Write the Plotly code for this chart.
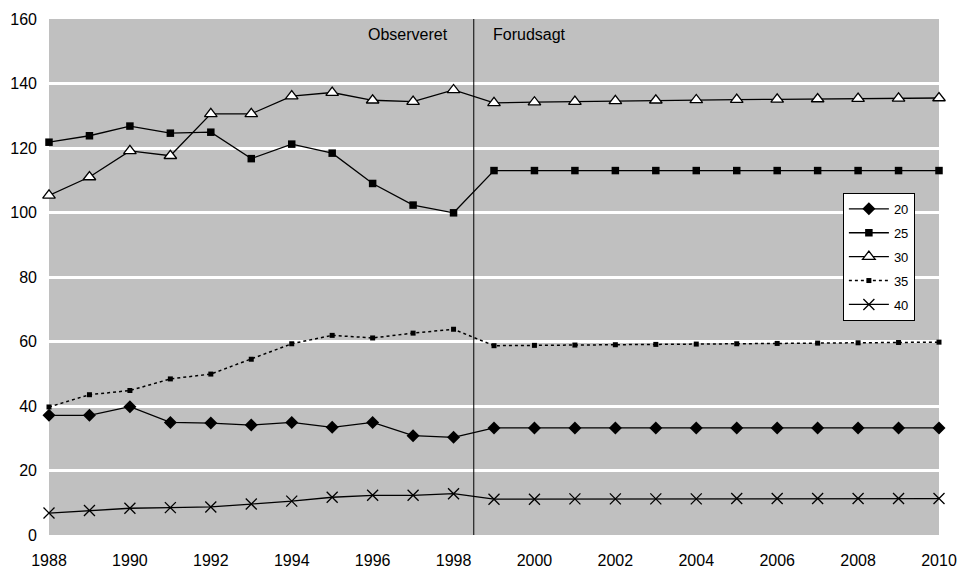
import plotly.graph_objects as go

years = list(range(1988, 2011))

s20 = [37.1, 37.1, 39.8, 34.9, 34.7, 34.1, 34.9, 33.4, 34.9, 30.8, 30.3,
       33.2, 33.2, 33.2, 33.2, 33.2, 33.2, 33.2, 33.2, 33.2, 33.2, 33.2, 33.2]
s25 = [121.8, 123.8, 126.8, 124.6, 124.9, 116.7, 121.2, 118.4, 109.0, 102.3, 99.9,
       113.0, 113.0, 113.0, 113.0, 113.0, 113.0, 113.0, 113.0, 113.0, 113.0, 113.0, 113.0]
s30 = [105.3, 111.0, 119.1, 117.6, 130.6, 130.6, 136.1, 137.2, 134.8, 134.4, 138.0,
       134.0, 134.2, 134.4, 134.6, 134.8, 134.9, 135.0, 135.1, 135.2, 135.3, 135.4, 135.5]
s35 = [39.7, 43.5, 44.8, 48.4, 49.9, 54.5, 59.3, 61.9, 61.1, 62.6, 63.8,
       58.7, 58.8, 58.9, 59.0, 59.1, 59.2, 59.3, 59.4, 59.5, 59.6, 59.7, 59.8]
s40 = [6.8, 7.6, 8.3, 8.5, 8.7, 9.6, 10.5, 11.7, 12.3, 12.3, 12.8,
       11.1, 11.1, 11.2, 11.2, 11.2, 11.2, 11.3, 11.3, 11.3, 11.3, 11.3, 11.3]

split_year = 1998.5
label_obs = "Observeret"
label_pred = "Forudsagt"

font = "Liberation Sans, Arial, sans-serif"

fig = go.Figure()

fig.add_trace(go.Scatter(x=years, y=s20, name="20", mode="lines+markers", legendgroup="a",
                         line=dict(color="black", width=1.3),
                         marker=dict(symbol="diamond", size=10, color="black"),
                         cliponaxis=False))
fig.add_trace(go.Scatter(x=years, y=s25, name="25", mode="lines+markers", legendgroup="b",
                         line=dict(color="black", width=1.3),
                         marker=dict(symbol="square", size=7.5, color="black"),
                         cliponaxis=False))
fig.add_trace(go.Scatter(x=years, y=s30, name="30", mode="lines+markers", legendgroup="c",
                         line=dict(color="black", width=1.3),
                         marker=dict(symbol="triangle-up", size=11, color="white",
                                     line=dict(color="black", width=1.3)),
                         cliponaxis=False))
fig.add_trace(go.Scatter(x=years, y=s35, name="35", mode="lines+markers", legendgroup="d",
                         line=dict(color="black", width=1.5, dash="dot"),
                         marker=dict(symbol="square", size=5, color="black"),
                         cliponaxis=False))
fig.add_trace(go.Scatter(x=years, y=s40, name="40", mode="lines+markers", legendgroup="e",
                         line=dict(color="black", width=1.3),
                         marker=dict(symbol="x-thin", size=11, color="black",
                                     line=dict(color="black", width=1.3)),
                         cliponaxis=False))

fig.add_shape(type="line", x0=split_year, x1=split_year, y0=0, y1=160,
              xref="x", yref="y", line=dict(color="black", width=1))

fig.add_annotation(x=split_year, y=155.2, xref="x", yref="y", text=label_obs,
                   showarrow=False, xanchor="right", xshift=-24,
                   font=dict(family=font, size=16, color="black"))
fig.add_annotation(x=split_year, y=155.2, xref="x", yref="y", text=label_pred,
                   showarrow=False, xanchor="left", xshift=17,
                   font=dict(family=font, size=16, color="black"))

fig.update_layout(
    width=957, height=569,
    margin=dict(l=49, r=18, t=19, b=34),
    paper_bgcolor="white",
    plot_bgcolor="#c0c0c0",
    font=dict(family=font, size=16, color="black"),
    showlegend=True,
    legend=dict(x=0.892, y=0.663, xanchor="left", yanchor="top",
                bgcolor="white", bordercolor="black", borderwidth=1,
                font=dict(family=font, size=13, color="black"),
                tracegroupgap=4, itemwidth=40),
    xaxis=dict(range=[1988, 2010], tickvals=list(range(1988, 2011, 2)),
               showgrid=False, zeroline=False, showline=False, automargin=False,
               ticks="", ticklabelstandoff=14, fixedrange=True),
    yaxis=dict(range=[0, 160], tickvals=list(range(0, 161, 20)),
               showgrid=True, gridcolor="white", gridwidth=3, automargin=False,
               zeroline=False, showline=False, ticks="",
               ticklabelstandoff=11, fixedrange=True),
)

page_js = ("document.body.style.margin='0';"
           "document.body.style.overflow='hidden';"
           "document.documentElement.style.overflow='hidden';")

fig.write_html("out.html", post_script=page_js,
               config={"displayModeBar": False, "staticPlot": True})
